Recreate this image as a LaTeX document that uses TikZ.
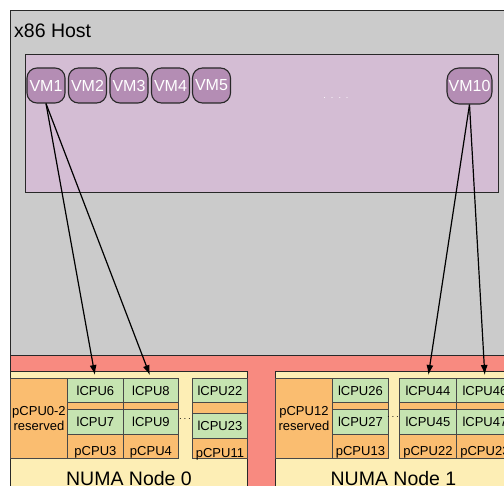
\documentclass[tikz,border=0pt]{standalone}
\usepackage{fontspec}
\setmainfont{Liberation Sans}
\usetikzlibrary{arrows.meta}
\definecolor{hostgray}{RGB}{203,203,203}
\definecolor{vmpanel}{RGB}{212,189,212}
\definecolor{vmfill}{RGB}{180,141,180}
\definecolor{hwred}{RGB}{248,138,128}
\definecolor{numayellow}{RGB}{253,238,181}
\definecolor{cpuorange}{RGB}{250,189,112}
\definecolor{cpugreen}{RGB}{198,228,177}
\definecolor{edge}{RGB}{40,40,40}
\newcommand\cpucol[7]{%
  \node[lcpu, minimum width=#2, minimum height=24] (#7a) at (#1,378) {#4};
  \node[strip, minimum width=#2, minimum height=#3] (#7s) at (#1,402) {};
  \node[lcpu, minimum width=#2, minimum height=25] (#7b) at (#1,{402+#3}) {#5};
  \node[pcpu, minimum width=#2, minimum height={31-#3}] (#7c) at (#1,{427+#3}) {#6};
}
\begin{document}
\begin{tikzpicture}[x=1pt,y=-1pt,
  box/.style={draw=edge, line width=1.4pt, anchor=north west, inner sep=0pt},
  vm/.style={draw=edge, line width=1.1pt, fill=vmfill, rounded corners=10pt, inner sep=0pt,
    text=white, font=\fontsize{16}{18}\selectfont},
  cell/.style={draw=edge!85, line width=0.9pt, anchor=north west, inner sep=0pt,
    font=\fontsize{13}{15}\selectfont},
  lcpu/.style={cell, fill=cpugreen},
  strip/.style={cell, fill=cpuorange},
  pcpu/.style={cell, fill=cpuorange, text height=18pt, text depth=0pt},
  resv/.style={cell, fill=cpuorange, align=center, font=\fontsize{13}{15}\selectfont},
  big/.style={inner sep=0pt, font=\fontsize{19.5}{22}\selectfont},
  link/.style={draw=black, line width=1.2pt, -{Latex[length=10pt,width=7pt]}, shorten >=3pt}
]
\useasboundingbox (0,0) rectangle (504,486);
\clip (0,0) rectangle (504,486);
\fill[white] (0,0) rectangle (504,486);
% host and hardware
\node[box, fill=hostgray, minimum width=520, minimum height=345] (host) at (10,10) {};
\node[big, anchor=base west] (hostlbl) at (14,38) {x86 Host};
\node[box, fill=hwred, minimum width=520, minimum height=150] (hw) at (10,355) {};
% VM panel
\node[box, fill=vmpanel, minimum width=473, minimum height=138] (panel) at (25,54) {};
\node[vm, minimum width=38, minimum height=35] (vm1) at (46,85.5) {VM1};
\node[vm, minimum width=38, minimum height=35] (vm2) at (87.5,85.5) {VM2};
\node[vm, minimum width=38, minimum height=35] (vm3) at (129,85.5) {VM3};
\node[vm, minimum width=38, minimum height=35] (vm4) at (170.5,85.5) {VM4};
\node[vm, minimum width=38, minimum height=35] (vm5) at (211.5,85.5) {VM5};
\node[vm, minimum width=45, minimum height=36, rounded corners=12pt] (vm10) at (469.5,86) {VM10};
\node[text=white, font=\fontsize{9}{10}\selectfont, inner sep=0pt] (vdots) at (336,98) {.\ \ .\ \ .\ \ .};
% NUMA node 0
\node[box, fill=numayellow, minimum width=237, minimum height=140] (numa0) at (10,371) {};
\node[resv, minimum width=57, minimum height=80] (res0) at (10,378) {pCPU0-2\\reserved};
\cpucol{67}{56}{7}{lCPU6}{lCPU7}{pCPU3}{c6}
\cpucol{123}{55}{7}{lCPU8}{lCPU9}{pCPU4}{c8}
\cpucol{192}{55}{11}{lCPU22}{lCPU23}{pCPU11}{c22}
\node[font=\fontsize{10}{10}\selectfont, inner sep=0pt] (dots0) at (185,419) {$\cdots$};
\node[big, anchor=base] (numa0lbl) at (129,486) {NUMA Node 0};
% NUMA node 1
\node[box, fill=numayellow, minimum width=240, minimum height=140] (numa1) at (275,371) {};
\node[resv, minimum width=57, minimum height=80] (res1) at (275,378) {pCPU12\\reserved};
\cpucol{332}{56}{7}{lCPU26}{lCPU27}{pCPU13}{c26}
\cpucol{399}{57}{7}{lCPU44}{lCPU45}{pCPU22}{c44}
\cpucol{456}{57}{7}{lCPU46}{lCPU47}{pCPU23}{c46}
\node[font=\fontsize{10}{10}\selectfont, inner sep=0pt] (dots1) at (393,417) {$\cdots$};
\node[big, anchor=base] (numa1lbl) at (393.5,486) {NUMA Node 1};
% connectors
\draw[link] (vm1.south) -- (c6a.north);
\draw[link] (vm1.south) -- (c8a.north);
\draw[link] (vm10.south) -- (c44a.north);
\draw[link] (vm10.south) -- (c46a.north);
\end{tikzpicture}
\end{document}
